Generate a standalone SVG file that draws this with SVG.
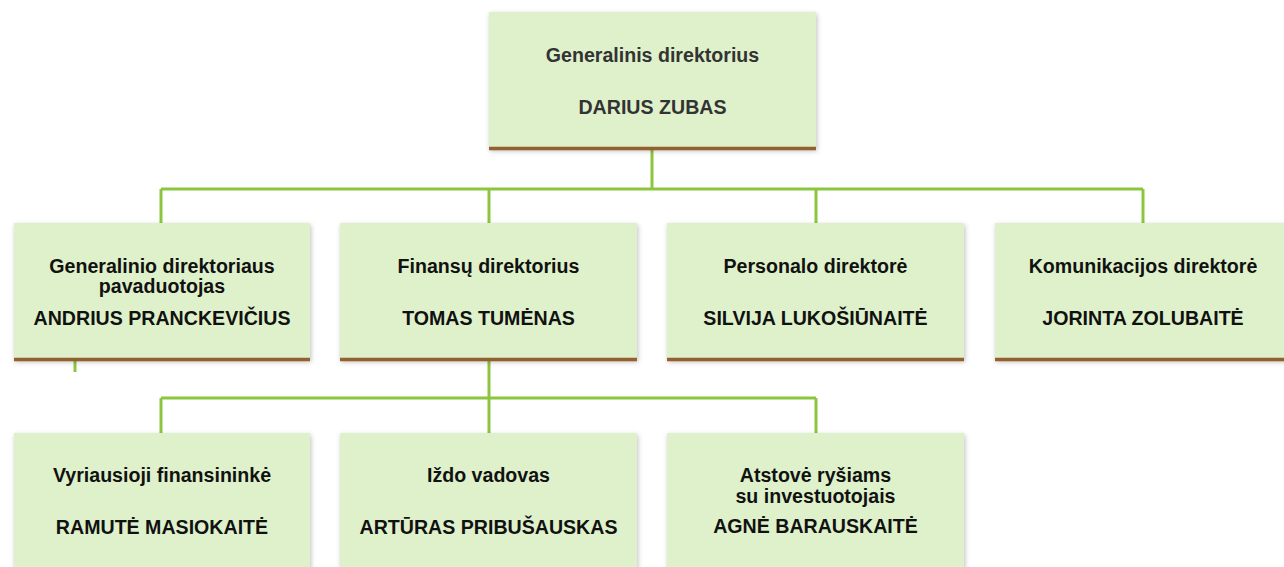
<svg xmlns="http://www.w3.org/2000/svg" width="1284" height="567" viewBox="0 0 1284 567">
<defs>
<filter id="sh" x="-5%" y="-5%" width="112%" height="115%">
<feDropShadow dx="1" dy="2" stdDeviation="2.5" flood-color="#000" flood-opacity="0.25"/>
</filter>
<style>
.box{fill:#def1cb;filter:url(#sh)}
.base{stroke:#93602f;stroke-width:3.5}
.con{stroke:#8cc63f;stroke-width:3;fill:none}
text{font-family:"Liberation Sans",Arial,sans-serif;font-weight:bold;font-size:19.6px;text-anchor:middle;fill:#111}
.top text{fill:#333}
</style>
</defs>
<rect width="1284" height="567" fill="#fff"/>
<g id="connectors">
<path class="con" d="M652 150V189M161 189H1143M161 189V223M489 189V223M816 189V223M1143 189V223"/>
<path class="con" d="M489 361V398M161 398H816M161 398V433M489 398V433M816 398V433"/>
<path class="con" d="M75 361V372"/>
</g>
<g id="n-ceo" class="top">
<rect class="box" x="489" y="12" width="327" height="137"/>
<line class="base" x1="489" y1="148.5" x2="816" y2="148.5"/>
<text x="652.5" y="62">Generalinis direktorius</text>
<text x="652.5" y="114">DARIUS ZUBAS</text>
</g>
<g id="n-deputy">
<rect class="box" x="14" y="223" width="296" height="137"/>
<line class="base" x1="14" y1="359.5" x2="310" y2="359.5"/>
<text x="162" y="273">Generalinio direktoriaus</text>
<text x="162" y="293">pavaduotojas</text>
<text x="162" y="325">ANDRIUS PRANCKEVIČIUS</text>
</g>
<g id="n-cfo">
<rect class="box" x="340" y="223" width="297" height="137"/>
<line class="base" x1="340" y1="359.5" x2="637" y2="359.5"/>
<text x="488.5" y="273">Finansų direktorius</text>
<text x="488.5" y="325">TOMAS TUMĖNAS</text>
</g>
<g id="n-hr">
<rect class="box" x="667" y="223" width="297" height="137"/>
<line class="base" x1="667" y1="359.5" x2="964" y2="359.5"/>
<text x="815.5" y="273">Personalo direktorė</text>
<text x="815.5" y="325">SILVIJA LUKOŠIŪNAITĖ</text>
</g>
<g id="n-comm">
<rect class="box" x="995" y="223" width="300" height="137"/>
<line class="base" x1="995" y1="359.5" x2="1284" y2="359.5"/>
<text x="1143" y="273">Komunikacijos direktorė</text>
<text x="1143" y="325">JORINTA ZOLUBAITĖ</text>
</g>
<g id="n-chief-fin">
<rect class="box" x="14" y="433" width="296" height="150"/>
<text x="162" y="482">Vyriausioji finansininkė</text>
<text x="162" y="534">RAMUTĖ MASIOKAITĖ</text>
</g>
<g id="n-treasury">
<rect class="box" x="340" y="433" width="297" height="150"/>
<text x="488.5" y="482">Iždo vadovas</text>
<text x="488.5" y="534">ARTŪRAS PRIBUŠAUSKAS</text>
</g>
<g id="n-ir">
<rect class="box" x="667" y="433" width="297" height="150"/>
<text x="815.5" y="482">Atstovė ryšiams</text>
<text x="815.5" y="503">su investuotojais</text>
<text x="815.5" y="533">AGNĖ BARAUSKAITĖ</text>
</g>
</svg>
